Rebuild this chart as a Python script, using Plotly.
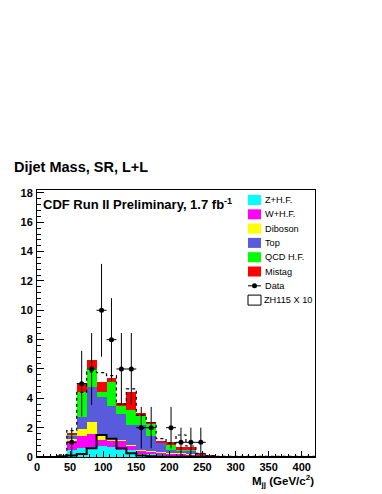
import numpy as np
import plotly.graph_objects as go

# ---------------- data (28 bins of 15 GeV from 0 to 420) ----------------
bin_width = 15
n_bins = 28
edges = np.arange(0, bin_width * n_bins + 1, bin_width)
centers = edges[:-1] + bin_width / 2

# cumulative tops of the stack (bins 2..17), rest ~0
z_top = [0, 0, 0.05, 0.50, 0.60, 0.70, 0.75, 0.70, 0.45, 0.45, 0.20, 0.20, 0.12, 0.08, 0.05, 0.05, 0.03, 0.02] + [0.01] * 10
w_top = [0, 0, 0.08, 1.10, 1.45, 1.60, 1.15, 1.10, 1.10, 0.75, 0.45, 0.35, 0.30, 0.25, 0.25, 0.20, 0.08, 0.04] + [0.02] * 10
d_top = [0, 0, 0.08, 1.20, 1.90, 2.40, 1.40, 1.25, 1.15, 0.80, 0.50, 0.38, 0.32, 0.27, 0.27, 0.22, 0.10, 0.05] + [0.02] * 10
t_top = [0, 0, 0.10, 1.45, 2.70, 4.80, 4.10, 3.50, 2.90, 2.20, 2.15, 1.40, 1.00, 0.45, 0.45, 0.45, 0.15, 0.07] + [0.04] * 10
q_top = [0, 0, 0.10, 1.50, 4.40, 6.10, 4.45, 5.10, 3.45, 3.20, 2.80, 2.30, 1.00, 0.85, 0.50, 0.48, 0.15, 0.07] + [0.04] * 10
m_top = [0, 0, 0.10, 1.60, 5.05, 6.60, 5.10, 5.40, 3.65, 4.45, 3.00, 2.40, 1.05, 1.05, 0.70, 0.70, 0.30, 0.10] + [0.05] * 10

dotted_total = [0, 0, 0.15, 1.80, 4.40, 5.80, 5.75, 5.55, 3.60, 4.65, 2.85, 2.35, 1.25, 0.95, 1.50, 0.75, 0.25, 0.10] + [0.05] * 10
signal_x10 = [0, 0, 0.02, 0.10, 0.20, 0.60, 1.50, 1.25, 0.60, 0.25, 0.10, 0.05, 0.03, 0.02, 0.02, 0.01, 0.01, 0.0] + [0.0] * 10

data_counts = [0, 0, 0, 1, 5, 6, 10, 8, 6, 6, 2, 2, 0, 2, 1, 1, 1, 0] + [0] * 10

names = ["Z+H.F.", "W+H.F.", "Diboson", "Top", "QCD H.F.", "Mistag"]
colors = ["#00ffff", "#ff00ff", "#ffff00", "#5a5adc", "#00ff00", "#ff0000"]
tops = [z_top, w_top, d_top, t_top, q_top, m_top]

x_ticks = [0, 50, 100, 150, 200, 250, 300, 350, 400]
y_ticks = [0, 2, 4, 6, 8, 10, 12, 14, 16, 18]

# ---------------- figure ----------------
fig = go.Figure()

prev = np.zeros(n_bins)
for name, col, top in zip(names, colors, tops):
    top = np.array(top, dtype=float)
    comp = np.clip(top - prev, 0, None)
    fig.add_trace(go.Bar(x=centers, y=comp, width=bin_width, name=name,
                         marker=dict(color=col, line=dict(width=0)),
                         showlegend=False, hoverinfo="skip"))
    prev = np.maximum(prev, top)

# step outlines
def step(vals):
    v = list(vals)
    return list(edges), v + [v[-1]]

xs, ys = step(dotted_total)
fig.add_trace(go.Scatter(x=xs, y=ys, mode="lines", line_shape="hv",
                         line=dict(color="black", width=1.2, dash="dot"),
                         showlegend=False, hoverinfo="skip"))
xs, ys = step(signal_x10)
fig.add_trace(go.Scatter(x=xs, y=ys, mode="lines", line_shape="hv",
                         line=dict(color="black", width=2),
                         showlegend=False, hoverinfo="skip"))

# data points
dc = np.array(data_counts, dtype=float)
mask = dc > 0
fig.add_trace(go.Scatter(x=centers[mask], y=dc[mask], mode="markers",
                         marker=dict(color="black", size=5, symbol="circle"),
                         error_y=dict(type="data", array=np.sqrt(dc[mask]), color="black",
                                      thickness=1, width=0),
                         error_x=dict(type="constant", value=bin_width / 2, color="black",
                                      thickness=1, width=0),
                         showlegend=False, hoverinfo="skip"))

# ---------------- layout geometry (page pixels) ----------------
W, H = 382, 494
BODY = 8                      # default page body margin of the html page
L, R, T, B = 37, 315, 190, 457
pw, ph = R - L, B - T

def px(xp):
    return (xp - L) / pw

def py(yp):
    return (B - yp) / ph

bold = dict(family="Liberation Sans, Arial, sans-serif", color="black")

fig.update_layout(
    width=W - BODY, height=H - BODY,
    margin=dict(l=L - BODY, r=W - R, t=T - BODY, b=H - B, pad=0),
    paper_bgcolor="white", plot_bgcolor="white",
    barmode="stack", bargap=0,
    showlegend=False,
    xaxis=dict(range=[0, bin_width * n_bins], tickvals=x_ticks, ticks="inside", ticklen=6,
               tickcolor="black", showline=True, linecolor="black", linewidth=1, mirror=True,
               showgrid=False, zeroline=False,
               tickfont=dict(size=11, weight="bold", **bold),
               minor=dict(ticks="inside", ticklen=3, dtick=10, tickcolor="black", showgrid=False)),
    yaxis=dict(range=[0, 18.2], tickvals=y_ticks, ticks="inside", ticklen=7,
               tickcolor="black", showline=True, linecolor="black", linewidth=1, mirror=True,
               showgrid=False, zeroline=False, ticklabelstandoff=1,
               tickfont=dict(size=11, weight="bold", **bold),
               minor=dict(ticks="inside", ticklen=4, dtick=0.4, tickcolor="black", showgrid=False)),
)

ann = []
shapes = []
ann.append(dict(text="Dijet Mass, SR, L+L", xref="paper", yref="paper", x=px(12), y=py(167),
                xanchor="left", yanchor="middle", showarrow=False,
                font=dict(size=14.5, weight="bold", **bold)))
ann.append(dict(text="CDF Run II Preliminary, 1.7 fb<sup>-1</sup>", xref="paper", yref="paper",
                x=px(41), y=py(204), xanchor="left", yanchor="middle", showarrow=False,
                font=dict(size=13, weight="bold", **bold)))
ann.append(dict(text="M<sub>jj</sub> (GeV/c<sup>2</sup>)", xref="paper", yref="paper",
                x=px(316), y=py(481), xanchor="right", yanchor="middle", showarrow=False,
                font=dict(size=11.5, weight="bold", **bold)))

# manual legend
leg_y0 = 200
leg_dy = 14.3
box_l, box_r = 248, 261
text_x = 263
leg_font = 9.2
for i, (name, col) in enumerate(zip(names, colors)):
    yc = leg_y0 + i * leg_dy
    shapes.append(dict(type="rect", xref="paper", yref="paper",
                       x0=px(box_l), x1=px(box_r), y0=py(yc + 5), y1=py(yc - 5),
                       fillcolor=col, line=dict(width=0)))
    ann.append(dict(text=name, xref="paper", yref="paper", x=px(text_x), y=py(yc),
                    xanchor="left", yanchor="middle", showarrow=False,
                    font=dict(size=leg_font, **bold)))
# Data entry
yc = leg_y0 + 6 * leg_dy
shapes.append(dict(type="line", xref="paper", yref="paper", x0=px(box_l), x1=px(box_r),
                   y0=py(yc), y1=py(yc), line=dict(color="black", width=1)))
cx = (box_l + box_r) / 2
shapes.append(dict(type="circle", xref="paper", yref="paper", x0=px(cx - 2.5), x1=px(cx + 2.5),
                   y0=py(yc + 2.5), y1=py(yc - 2.5), fillcolor="black", line=dict(width=0)))
ann.append(dict(text="Data", xref="paper", yref="paper", x=px(text_x), y=py(yc),
                xanchor="left", yanchor="middle", showarrow=False, font=dict(size=leg_font, **bold)))
# ZH entry
yc = leg_y0 + 7 * leg_dy
shapes.append(dict(type="rect", xref="paper", yref="paper",
                   x0=px(box_l), x1=px(box_r), y0=py(yc + 5), y1=py(yc - 5),
                   fillcolor="rgba(0,0,0,0)", line=dict(color="black", width=1)))
ann.append(dict(text="ZH115 X 10", xref="paper", yref="paper", x=px(text_x - 1), y=py(yc),
                xanchor="left", yanchor="middle", showarrow=False, font=dict(size=leg_font, **bold)))

fig.update_layout(annotations=ann, shapes=shapes)
fig.write_html("out.html")
